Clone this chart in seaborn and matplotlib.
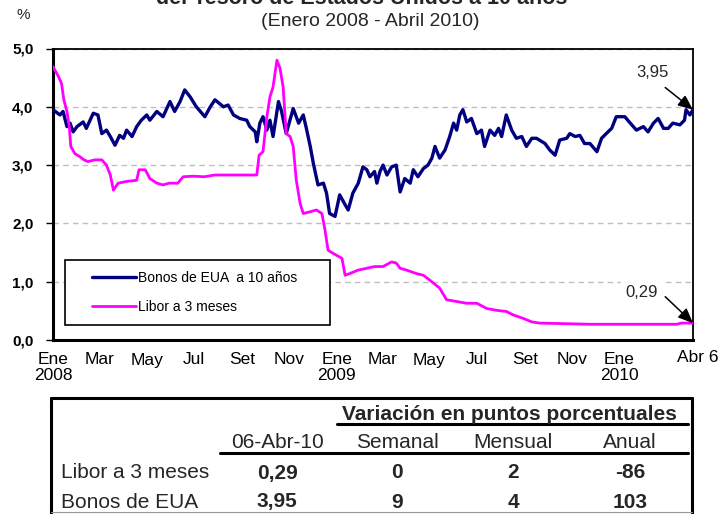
import matplotlib.pyplot as plt
from matplotlib.lines import Line2D
from matplotlib.patches import Rectangle
from matplotlib.ticker import FuncFormatter
from matplotlib.transforms import ScaledTranslation
import pandas as pd
import seaborn as sns

INICIO = pd.Timestamp("2008-01-01")

# dias desde el 1 de enero de 2008 y tasa (%)
bonos_dias = [0, 9, 13, 18, 22, 26, 31, 39, 43, 52, 58, 63, 69, 74, 80, 86, 91, 95,
              102, 108, 114, 121, 125, 134, 142, 151, 157, 164, 170, 177, 185, 196,
              203, 209, 220, 226, 233, 241, 250, 254, 261, 263, 267, 271, 276, 280,
              284, 291, 295, 301, 310, 317, 323, 327, 332, 336, 342, 349, 353, 357,
              364, 370, 377, 381, 387, 394, 400, 405, 409, 415, 418, 422, 426, 431,
              437, 443, 448, 454, 461, 465, 471, 478, 484, 489, 493, 499, 506, 512,
              517, 521, 525, 529, 534, 540, 547, 553, 557, 564, 570, 575, 579, 585,
              592, 598, 605, 611, 618, 624, 635, 641, 648, 654, 663, 667, 674, 680,
              686, 693, 702, 708, 714, 721, 727, 738, 745, 753, 762, 768, 775, 781,
              788, 794, 800, 809, 815, 817, 822, 826]
bonos_tasa = [3.95, 3.86, 3.92, 3.66, 3.72, 3.57, 3.66, 3.74, 3.63, 3.89, 3.86, 3.54,
              3.60, 3.49, 3.34, 3.51, 3.46, 3.60, 3.49, 3.66, 3.77, 3.86, 3.77, 3.92,
              3.83, 4.09, 3.92, 4.09, 4.29, 4.17, 4.00, 3.83, 4.00, 4.12, 4.00, 4.03,
              3.86, 3.80, 3.77, 3.66, 3.57, 3.40, 3.72, 3.83, 3.60, 3.77, 3.49, 4.09,
              3.92, 3.54, 3.97, 3.72, 3.86, 3.63, 3.32, 3.03, 2.66, 2.69, 2.52, 2.17,
              2.12, 2.49, 2.32, 2.23, 2.52, 2.69, 2.97, 2.92, 2.80, 2.89, 2.69, 2.89,
              3.00, 2.83, 2.97, 3.00, 2.54, 2.77, 2.69, 2.92, 2.80, 2.94, 3.00, 3.12,
              3.32, 3.12, 3.26, 3.49, 3.72, 3.60, 3.86, 3.95, 3.74, 3.80, 3.54, 3.60,
              3.32, 3.60, 3.51, 3.63, 3.49, 3.86, 3.60, 3.46, 3.49, 3.32, 3.46, 3.46,
              3.37, 3.26, 3.17, 3.43, 3.46, 3.54, 3.49, 3.51, 3.37, 3.37, 3.23, 3.46,
              3.54, 3.63, 3.83, 3.83, 3.72, 3.60, 3.66, 3.57, 3.72, 3.80, 3.63, 3.63,
              3.72, 3.69, 3.77, 3.95, 3.86, 3.95]

libor_dias = [0, 7, 11, 14, 18, 21, 23, 28, 35, 40, 45, 54, 63, 69, 74, 78, 84, 95,
              108, 111, 119, 125, 134, 142, 150, 161, 168, 181, 195, 209, 263, 266,
              271, 276, 280, 284, 289, 293, 297, 301, 306, 310, 314, 319, 323, 332,
              340, 347, 351, 355, 361, 373, 377, 383, 394, 405, 415, 426, 437, 443,
              448, 456, 469, 478, 486, 499, 508, 521, 534, 547, 560, 572, 585, 594,
              607, 618, 628, 693, 805, 811, 826]
libor_tasa = [4.69, 4.52, 4.40, 4.12, 3.92, 3.66, 3.32, 3.20, 3.14, 3.09, 3.06, 3.09,
              3.09, 3.00, 2.83, 2.57, 2.69, 2.72, 2.74, 2.92, 2.92, 2.77, 2.69, 2.66,
              2.69, 2.69, 2.80, 2.81, 2.80, 2.83, 2.83, 3.17, 3.23, 3.83, 4.17, 4.34,
              4.80, 4.66, 4.34, 3.54, 3.49, 3.32, 2.74, 2.34, 2.17, 2.20, 2.23, 2.17,
              1.89, 1.54, 1.49, 1.40, 1.11, 1.14, 1.20, 1.23, 1.26, 1.26, 1.34, 1.32,
              1.23, 1.20, 1.14, 1.11, 1.03, 0.89, 0.69, 0.66, 0.63, 0.63, 0.54, 0.51,
              0.49, 0.43, 0.37, 0.31, 0.29, 0.27, 0.27, 0.29, 0.29]

ticks_fechas = ["2008-01-01", "2008-03-01", "2008-05-01", "2008-07-01", "2008-09-01",
                "2008-11-01", "2009-01-01", "2009-03-01", "2009-05-01", "2009-07-01",
                "2009-09-01", "2009-11-01", "2010-01-01", "2010-04-06"]
ticks_etiquetas = ["Ene\n2008", "Mar", "May", "Jul", "Set", "Nov", "Ene\n2009", "Mar",
                   "May", "Jul", "Set", "Nov", "Ene\n2010", "Abr 6"]

tabla_filas = ["Libor a 3 meses", "Bonos de EUA"]
tabla_columnas = ["06-Abr-10", "Semanal", "Mensual", "Anual"]
tabla_valores = [["0,29", "0", "2", "-86"],
                 ["3,95", "9", "4", "103"]]

NOMBRE_BONOS = "Bonos de EUA  a 10 años"
NOMBRE_LIBOR = "Libor a 3 meses"


def fy(px):
    return 1 - px / 514.0


def fx(px):
    return px / 720.0


def main():
    sns.set_theme(style="white")
    plt.rcParams['font.family'] = ['Liberation Sans', 'DejaVu Sans']

    bonos = pd.DataFrame({"fecha": INICIO + pd.to_timedelta(bonos_dias, unit="D"),
                          "tasa": bonos_tasa})
    libor = pd.DataFrame({"fecha": INICIO + pd.to_timedelta(libor_dias, unit="D"),
                          "tasa": libor_tasa})

    fig = plt.figure(figsize=(7.2, 5.14), dpi=100)
    ax = fig.add_axes([fx(53), fy(340), fx(693) - fx(53), fy(48.5) - fy(340)])

    sns.lineplot(x="fecha", y="tasa", data=bonos, color="#000080", linewidth=2.4,
                 ax=ax, label=NOMBRE_BONOS, zorder=3)
    sns.lineplot(x="fecha", y="tasa", data=libor, color="#FF00FF", linewidth=2.0,
                 ax=ax, label=NOMBRE_LIBOR, zorder=3)

    ax.set_xlim(INICIO, INICIO + pd.Timedelta(days=826))
    ax.set_ylim(0, 5)
    ax.set_xlabel("")
    ax.set_ylabel("")

    ax.set_yticks([0, 1, 2, 3, 4, 5])
    ax.yaxis.set_major_formatter(FuncFormatter(lambda v, p: f"{v:.1f}".replace(".", ",")))
    ax.tick_params(axis="y", left=True, length=5, width=1, color="black", pad=9,
                   labelsize=11, labelcolor="black")
    for lbl in ax.get_yticklabels():
        lbl.set_fontweight("bold")

    ax.set_xticks(pd.to_datetime(ticks_fechas))
    ax.set_xticklabels(ticks_etiquetas, linespacing=1.05)
    ax.tick_params(axis="x", bottom=False, length=0, pad=9, labelcolor="black")
    for lbl in ax.get_xticklabels():
        lbl.set_fontsize(12.5)
    ult = ax.get_xticklabels()[-1]
    ult.set_transform(ult.get_transform() + ScaledTranslation(5 / 100, 3 / 100, fig.dpi_scale_trans))

    ax.yaxis.grid(True, linestyle=(0, (4, 3)), color="#BFBFBF", linewidth=1)
    ax.xaxis.grid(False)
    ax.set_axisbelow(True)
    for lado, ancho in [("left", 2.2), ("bottom", 2.2), ("top", 1.3), ("right", 1.3)]:
        ax.spines[lado].set_color("black")
        ax.spines[lado].set_linewidth(ancho)

    # leyenda con marco propio
    ax.add_patch(Rectangle(((65 - 53) / 640, (340 - 325) / 291.5), 265 / 640, 65 / 291.5,
                           transform=ax.transAxes, facecolor="white", edgecolor="black",
                           linewidth=1.2, zorder=5))
    leg = ax.legend(loc="center left", bbox_to_anchor=((92 - 53) / 640, (340 - 292.5) / 291.5),
                    frameon=False, fontsize=10, handlelength=3.2, handletextpad=0.1,
                    labelspacing=1.1, borderpad=0, borderaxespad=0)
    leg.set_zorder(6)
    for t in leg.get_texts():
        t.set_color("black")

    # anotaciones de ultimo valor
    fin_b = (bonos["fecha"].iloc[-1], bonos["tasa"].iloc[-1])
    fin_l = (libor["fecha"].iloc[-1], libor["tasa"].iloc[-1])
    flecha = dict(arrowstyle="-|>,head_length=0.75,head_width=0.32", color="black",
                  lw=1.1, mutation_scale=12, shrinkA=0, shrinkB=0)
    ax.annotate("", xy=fin_b, xytext=(-20, 16), textcoords="offset points",
                arrowprops=flecha, zorder=7, annotation_clip=False)
    ax.annotate(f"{bonos_tasa[-1]:.2f}".replace(".", ","), xy=fin_b, xytext=(-29, 27),
                textcoords="offset points", ha="center", va="center", fontsize=12,
                annotation_clip=False)
    ax.annotate("", xy=fin_l, xytext=(-20, 19), textcoords="offset points",
                arrowprops=flecha, zorder=7, annotation_clip=False)
    ax.annotate(f"{libor_tasa[-1]:.2f}".replace(".", ","), xy=fin_l, xytext=(-37, 22),
                textcoords="offset points", ha="center", va="center", fontsize=12,
                bbox=dict(facecolor="white", edgecolor="none", pad=3),
                annotation_clip=False, zorder=4)

    # titulos
    fig.text(fx(362), fy(4), "del Tesoro de Estados Unidos a 10 años", ha="center",
             va="baseline", fontsize=15.5, fontweight="bold")
    fig.text(fx(370), fy(22), "(Enero 2008 - Abril 2010)", ha="center", va="center",
             fontsize=14)
    fig.text(fx(23), fy(15), "%", ha="center", va="center", fontsize=11)

    # tabla inferior
    lineas = [((51, 692), (398, 398), 2.2, "black"),
              ((51, 51), (398, 514), 2.2, "black"),
              ((692, 692), (398, 514), 2.2, "black"),
              ((337, 688), (424, 424), 2.2, "black"),
              ((220, 688), (453, 453), 2.2, "black"),
              ((51, 692), (512, 512), 0.8, "#999999")]
    for xs, ys, ancho, col in lineas:
        fig.add_artist(Line2D([fx(v) for v in xs], [fy(v) for v in ys], color=col,
                              linewidth=ancho, transform=fig.transFigure))

    col_x = [277, 397, 513, 630]
    fig.text(fx(509), fy(414), "Variación en puntos porcentuales", ha="center",
             va="center", fontsize=15, fontweight="bold")
    for cx, nombre in zip(col_x, tabla_columnas):
        fig.text(fx(cx), fy(443), nombre, ha="center", va="center", fontsize=15)
    for fila_y, nombre, vals in zip([473, 502], tabla_filas, tabla_valores):
        fig.text(fx(61), fy(fila_y), nombre, ha="left", va="center", fontsize=15)
        for cx, v in zip(col_x, vals):
            fig.text(fx(cx), fy(fila_y), v, ha="center", va="center", fontsize=15,
                     fontweight="bold")

    plt.savefig("out.png", dpi=100)
    plt.close()


if __name__ == '__main__':
    main()
